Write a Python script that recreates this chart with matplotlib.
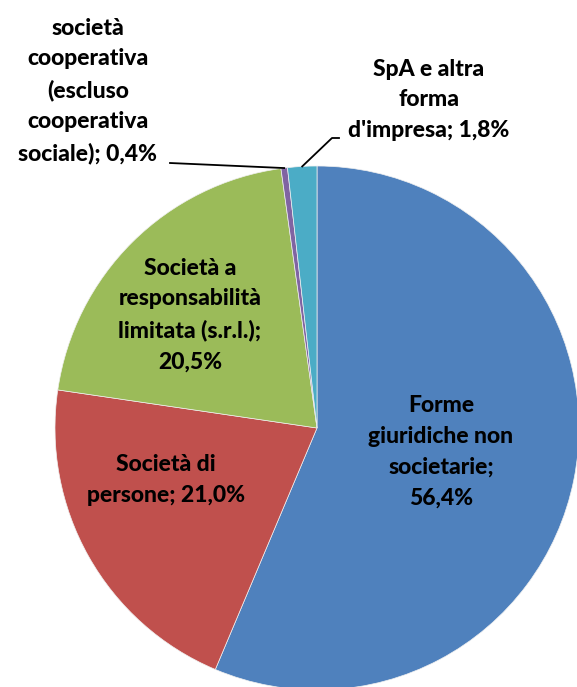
import numpy as np
import matplotlib
matplotlib.use("Agg")
import matplotlib.pyplot as plt

# forme giuridiche delle imprese (quota %)
labels = [
    "Forme\ngiuridiche non\nsocietarie;\n56,4%",
    "Società di\npersone; 21,0%",
    "Società a\nresponsabilità\nlimitata (s.r.l.);\n20,5%",
    "società\ncooperativa\n(escluso\ncooperativa\nsociale); 0,4%",
    "SpA e altra\nforma\nd'impresa; 1,8%",
]
shares = [56.4, 21.0, 20.5, 0.4, 1.8]
colors = ["#4F81BD", "#C0504D", "#9BBB59", "#8064A2", "#4BACC6"]

W, H = 577, 687
plt.rcParams["font.family"] = ["Lato", "DejaVu Sans"]

fig = plt.figure(figsize=(W / 100, H / 100), dpi=100)
ax = fig.add_axes([0, 0, 1, 1])

cx, cy, r = 317, H - 428, 262
wedges, _ = ax.pie(
    shares,
    colors=colors,
    startangle=90,
    counterclock=False,
    center=(cx, cy),
    radius=r,
    wedgeprops=dict(edgecolor="#f0f0f0", linewidth=0.5),
    frame=True,
)
ax.set_xlim(0, W)
ax.set_ylim(0, H)
ax.set_aspect("equal")
ax.axis("off")

txt = dict(ha="center", va="center", fontsize=16.5, fontweight="black",
           linespacing=1.58, color="black")

# label positions (pixel coords, top-down)
pos = [(441, 452), (166, 480), (190, 315), (88, 91), (429, 100)]
for lab, (x, y) in zip(labels, pos):
    ax.text(x, H - y, lab, **txt)


def rim(w):
    a = np.deg2rad((w.theta1 + w.theta2) / 2)
    return cx + r * np.cos(a), cy + r * np.sin(a)


# leader lines for the two small slices
px, py = rim(wedges[3])
ax.plot([170, px], [H - 163, py], color="black", lw=1.3)
sx, sy = rim(wedges[4])
ax.plot([sx, 332, 339], [sy, H - 138, H - 138], color="black", lw=1.3)

fig.savefig("out.png", dpi=100)
